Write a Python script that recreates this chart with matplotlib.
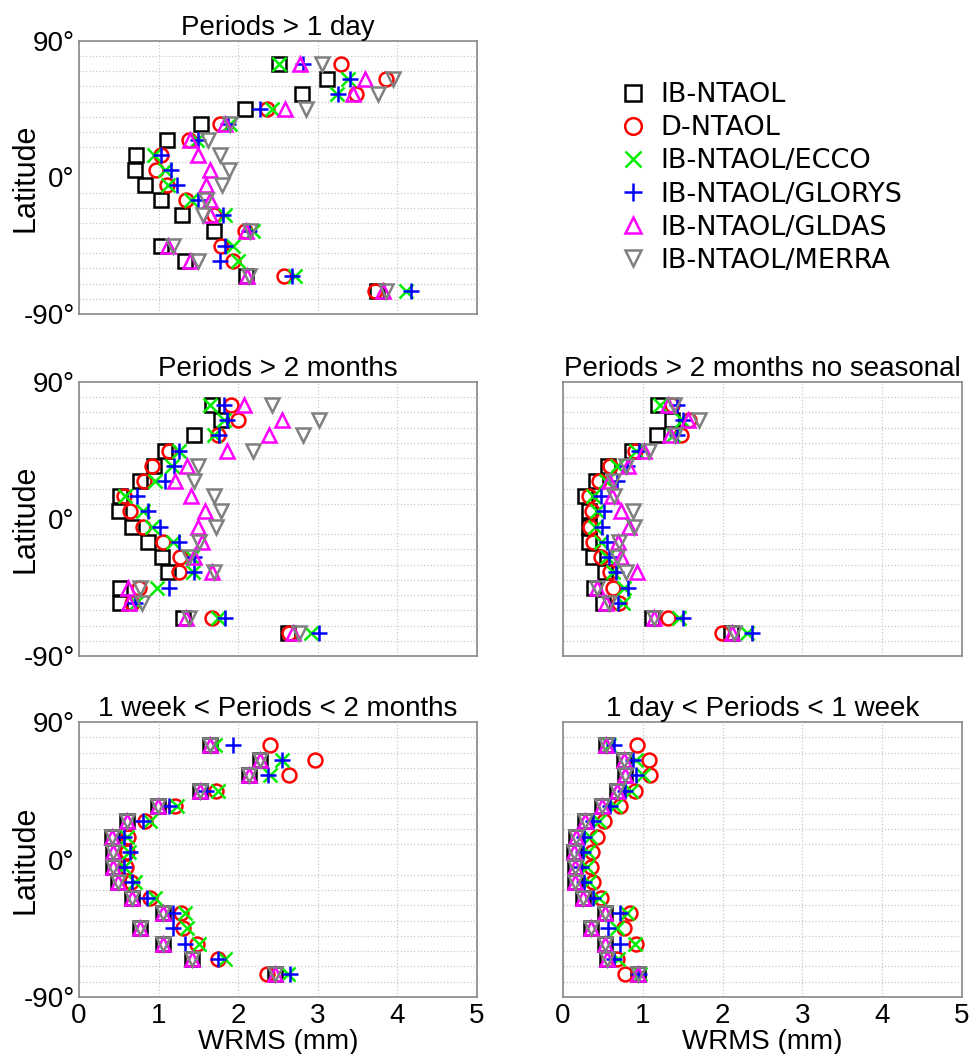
import matplotlib
matplotlib.use("Agg")
import matplotlib.pyplot as plt
from matplotlib.ticker import FixedLocator

lat = [75, 65, 55, 45, 35, 25, 15, 5, -5, -15, -25, -35, -45, -55, -65, -75]

series_names = ["IB-NTAOL", "D-NTAOL", "IB-NTAOL/ECCO", "IB-NTAOL/GLORYS",
                "IB-NTAOL/GLDAS", "IB-NTAOL/MERRA"]

# Panel 1: Periods > 1 day
p1_ib     = [2.51, 3.11, 2.80, 2.08, 1.53, 1.10, 0.71, 0.70, 0.83, 1.03, 1.29, 1.70, 1.03, 1.33, 2.10, 3.74]
p1_d      = [3.29, 3.86, 3.48, 2.36, 1.77, 1.38, 1.03, 0.97, 1.10, 1.34, 1.69, 2.09, 1.79, 1.94, 2.58, 3.72]
p1_ecco   = [2.51, 3.38, 3.24, 2.42, 1.90, 1.48, 0.94, 1.08, 1.12, 1.41, 1.84, 2.19, 1.94, 2.00, 2.71, 4.11]
p1_glorys = [2.82, 3.41, 3.25, 2.28, 1.87, 1.50, 1.03, 1.15, 1.23, 1.49, 1.81, 2.13, 1.84, 1.77, 2.67, 4.17]
p1_gldas  = [2.78, 3.59, 3.44, 2.59, 1.84, 1.40, 1.50, 1.65, 1.59, 1.64, 1.64, 2.10, 1.12, 1.40, 2.11, 3.82]
p1_merra  = [3.05, 3.95, 3.76, 2.85, 1.90, 1.62, 1.77, 1.88, 1.80, 1.59, 1.56, 2.15, 1.18, 1.49, 2.13, 3.86]

# Panel 2: Periods > 2 months
p2_ib     = [1.67, 1.79, 1.45, 1.08, 0.94, 0.77, 0.52, 0.50, 0.67, 0.87, 1.04, 1.12, 0.51, 0.51, 1.31, 2.63]
p2_d      = [1.91, 2.00, 1.74, 1.13, 0.92, 0.82, 0.57, 0.64, 0.81, 1.06, 1.27, 1.25, 0.76, 0.66, 1.67, 2.64]
p2_ecco   = [1.65, 1.82, 1.69, 1.25, 1.17, 0.96, 0.58, 0.80, 0.92, 1.18, 1.42, 1.43, 0.98, 0.72, 1.74, 2.92]
p2_glorys = [1.82, 1.86, 1.76, 1.25, 1.19, 1.08, 0.73, 0.87, 1.02, 1.25, 1.44, 1.44, 1.13, 0.70, 1.83, 3.02]
p2_gldas  = [2.07, 2.55, 2.39, 1.86, 1.36, 1.21, 1.41, 1.58, 1.49, 1.54, 1.44, 1.67, 0.62, 0.63, 1.35, 2.69]
p2_merra  = [2.42, 3.02, 2.82, 2.19, 1.49, 1.44, 1.70, 1.79, 1.72, 1.51, 1.38, 1.70, 0.77, 0.79, 1.38, 2.76]

# Panel 3: Periods > 2 months no seasonal
p3_ib     = [1.19, 1.37, 1.18, 0.86, 0.57, 0.41, 0.28, 0.32, 0.32, 0.33, 0.38, 0.53, 0.39, 0.50, 1.11, 2.10]
p3_d      = [1.37, 1.58, 1.48, 0.90, 0.59, 0.45, 0.33, 0.36, 0.34, 0.38, 0.47, 0.59, 0.63, 0.70, 1.31, 1.99]
p3_ecco   = [1.21, 1.49, 1.38, 0.92, 0.68, 0.54, 0.37, 0.42, 0.40, 0.47, 0.55, 0.63, 0.76, 0.75, 1.45, 2.30]
p3_glorys = [1.43, 1.51, 1.43, 0.95, 0.80, 0.68, 0.48, 0.52, 0.49, 0.55, 0.58, 0.66, 0.82, 0.69, 1.50, 2.37]
p3_gldas  = [1.32, 1.57, 1.34, 1.02, 0.81, 0.58, 0.62, 0.73, 0.83, 0.69, 0.73, 0.93, 0.43, 0.54, 1.14, 2.12]
p3_merra  = [1.39, 1.71, 1.40, 1.08, 0.79, 0.63, 0.64, 0.88, 0.89, 0.70, 0.68, 0.79, 0.42, 0.58, 1.14, 2.14]

# Panel 4: 1 week < Periods < 2 months
p4_ib     = [1.64, 2.27, 2.13, 1.52, 0.99, 0.60, 0.41, 0.43, 0.43, 0.49, 0.66, 1.06, 0.77, 1.05, 1.42, 2.46]
p4_d      = [2.40, 2.97, 2.64, 1.72, 1.21, 0.83, 0.62, 0.60, 0.59, 0.65, 0.89, 1.28, 1.31, 1.48, 1.74, 2.36]
p4_ecco   = [1.71, 2.55, 2.40, 1.74, 1.23, 0.89, 0.60, 0.63, 0.56, 0.70, 0.96, 1.33, 1.36, 1.51, 1.84, 2.63]
p4_glorys = [1.93, 2.55, 2.38, 1.60, 1.13, 0.80, 0.56, 0.64, 0.57, 0.66, 0.85, 1.18, 1.18, 1.33, 1.74, 2.65]
p4_gldas  = [1.64, 2.27, 2.13, 1.52, 0.99, 0.60, 0.41, 0.43, 0.43, 0.49, 0.66, 1.06, 0.77, 1.05, 1.42, 2.46]
p4_merra  = [1.64, 2.27, 2.13, 1.52, 0.99, 0.60, 0.41, 0.43, 0.43, 0.49, 0.66, 1.06, 0.77, 1.05, 1.42, 2.46]

# Panel 5: 1 day < Periods < 1 week
p5_ib     = [0.54, 0.77, 0.78, 0.68, 0.49, 0.28, 0.16, 0.14, 0.15, 0.15, 0.25, 0.53, 0.35, 0.53, 0.55, 0.94]
p5_d      = [0.93, 1.08, 1.09, 0.90, 0.72, 0.51, 0.43, 0.36, 0.35, 0.37, 0.47, 0.84, 0.77, 0.91, 0.68, 0.78]
p5_ecco   = [0.58, 0.92, 1.00, 0.85, 0.65, 0.45, 0.34, 0.31, 0.30, 0.33, 0.45, 0.80, 0.68, 0.90, 0.69, 0.96]
p5_glorys = [0.64, 0.88, 0.91, 0.78, 0.59, 0.38, 0.26, 0.25, 0.23, 0.26, 0.38, 0.72, 0.57, 0.72, 0.64, 0.95]
p5_gldas  = [0.54, 0.77, 0.78, 0.68, 0.49, 0.28, 0.16, 0.14, 0.15, 0.15, 0.25, 0.53, 0.35, 0.53, 0.55, 0.94]
p5_merra  = [0.54, 0.77, 0.78, 0.68, 0.49, 0.28, 0.16, 0.14, 0.15, 0.15, 0.25, 0.53, 0.35, 0.53, 0.55, 0.94]

titles = ["Periods > 1 day", "Periods > 2 months", "Periods > 2 months no seasonal",
          "1 week < Periods < 2 months", "1 day < Periods < 1 week"]
panels = [
    [p1_ib, p1_d, p1_ecco, p1_glorys, p1_gldas, p1_merra],
    [p2_ib, p2_d, p2_ecco, p2_glorys, p2_gldas, p2_merra],
    [p3_ib, p3_d, p3_ecco, p3_glorys, p3_gldas, p3_merra],
    [p4_ib, p4_d, p4_ecco, p4_glorys, p4_gldas, p4_merra],
    [p5_ib, p5_d, p5_ecco, p5_glorys, p5_gldas, p5_merra],
]

markers = ["s", "o", "x", "+", "^", "v"]
colors = ["black", "#ff0000", "#00ee00", "#0000ff", "#ff00ff", "#808080"]
msizes = [10, 10, 10, 11, 10, 10]

W, H = 979, 1054
fig = plt.figure(figsize=(W / 100, H / 100), dpi=100)

# axes boxes in pixels: (left, top, right, bottom)
boxes = [
    (79, 41, 477, 314),
    (79, 382, 477, 656),
    (563, 382, 962, 656),
    (79, 722, 477, 997),
    (563, 722, 962, 997),
]

tfont = "Liberation Sans"
axes = []
for i, (l, t, r, b) in enumerate(boxes):
    ax = fig.add_axes([l / W, 1 - b / H, (r - l) / W, (b - t) / H])
    axes.append(ax)
    for j in range(6):
        ax.plot(panels[i][j], lat, linestyle="none", marker=markers[j],
                markersize=msizes[j], markerfacecolor="none",
                markeredgecolor=colors[j], markeredgewidth=1.8,
                label=series_names[j])
    ax.set_xlim(0, 5)
    ax.set_ylim(-90, 90)
    ax.xaxis.set_major_locator(FixedLocator([0, 1, 2, 3, 4, 5]))
    ax.yaxis.set_major_locator(FixedLocator([-90, 0, 90]))
    ax.yaxis.set_minor_locator(FixedLocator(list(range(-80, 90, 10))))
    ax.grid(True, which="major", axis="x", color="#c8c8c8", linestyle=":", linewidth=0.9)
    ax.grid(True, which="minor", axis="y", color="#c8c8c8", linestyle=":", linewidth=0.9)
    ax.tick_params(which="both", length=0)
    for s in ax.spines.values():
        s.set_color("#888888")
        s.set_linewidth(1.2)
    ax.set_title(titles[i], fontsize=20, family=tfont, pad=3)
    if i in (0, 1, 3):
        ax.set_yticklabels(["-90°", "0°", "90°"], fontsize=20, family=tfont)
        ax.tick_params(axis="y", pad=3)
        ax.set_ylabel("Latitude", fontsize=22, family=tfont)
        ax.yaxis.set_label_coords(-38 / (r - l), 0.5)
    else:
        ax.set_yticklabels([])
    if i in (3, 4):
        ax.set_xticklabels(["0", "1", "2", "3", "4", "5"], fontsize=20, family=tfont)
        ax.set_xlabel("WRMS (mm)", fontsize=20, family=tfont, labelpad=0)
        ax.tick_params(axis="x", pad=4)
    else:
        ax.set_xticklabels([])

handles, labels = axes[0].get_legend_handles_labels()
leg = fig.legend(handles, labels, loc="upper left",
                 bbox_to_anchor=(595 / W, 1 - 58 / H), frameon=False,
                 prop={"family": "DejaVu Sans", "size": 19.5},
                 handlelength=1.0, handletextpad=0.5, labelspacing=0.26,
                 markerscale=1.2)

fig.savefig("out.png", dpi=100)
